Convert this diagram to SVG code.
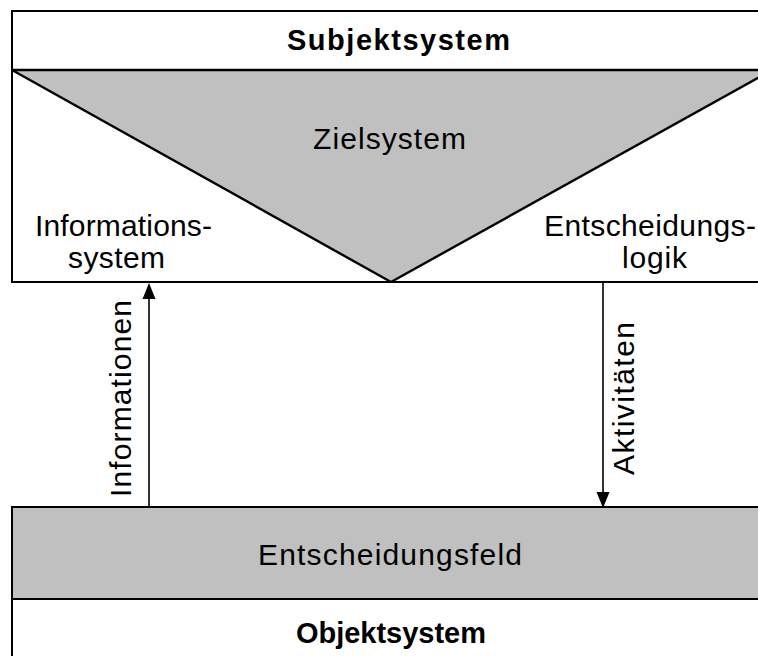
<svg xmlns="http://www.w3.org/2000/svg" width="758" height="656" viewBox="0 0 758 656">
  <style>
    .frame { fill: #ffffff; stroke: #000000; stroke-width: 2; }
    .shade { fill: #c0c0c0; stroke: #000000; stroke-width: 2.4; stroke-linejoin: bevel; }
    .rule { stroke: #000000; stroke-width: 2; fill: none; }
    .link { stroke: #000000; stroke-width: 1.6; fill: none; }
    .head { fill: #000000; }
    text { font-family: "Liberation Sans", Arial, sans-serif; font-size: 30px; fill: #000000; }
    .bold { font-weight: bold; font-size: 29px; }
  </style>

  <rect width="758" height="656" fill="#ffffff"/>

  <!-- upper block: subject system with goal triangle -->
  <g id="subjektsystem">
    <rect class="frame" x="12" y="11" width="760" height="271"/>
    <line class="rule" x1="12" y1="70" x2="772" y2="70"/>
    <text class="bold" x="287" y="50" textLength="223" lengthAdjust="spacing">Subjektsystem</text>
  </g>

  <g id="zielsystem">
    <polygon class="shade" points="12,70 772,70 391,282"/>
    <text x="313" y="149" textLength="153" lengthAdjust="spacing">Zielsystem</text>
  </g>

  <g id="informationssystem">
    <text x="35" y="236" textLength="177" lengthAdjust="spacing">Informations-</text>
    <text x="68" y="268" textLength="97" lengthAdjust="spacing">system</text>
  </g>

  <g id="entscheidungslogik">
    <text x="544" y="236" textLength="212" lengthAdjust="spacing">Entscheidungs-</text>
    <text x="622" y="268" textLength="65" lengthAdjust="spacing">logik</text>
  </g>

  <!-- lower block: object system with decision field -->
  <g id="objektsystem">
    <rect class="frame" x="12" y="507" width="760" height="170"/>
    <text class="bold" x="296" y="643" textLength="190" lengthAdjust="spacing">Objektsystem</text>
  </g>

  <g id="entscheidungsfeld">
    <rect class="shade" x="12" y="507" width="760" height="92" style="stroke-width:2"/>
    <text x="258" y="565" textLength="264" lengthAdjust="spacing">Entscheidungsfeld</text>
  </g>

  <!-- flows between the two blocks -->
  <g id="connectors">
    <line class="link" x1="149" y1="507" x2="149" y2="297"/>
    <polygon class="head" points="149,283 142.5,299 155.5,299"/>
    <text transform="rotate(-90 131 497)" x="131" y="497" textLength="197" lengthAdjust="spacing">Informationen</text>

    <line class="link" x1="603" y1="283" x2="603" y2="494"/>
    <polygon class="head" points="603,508 596.5,492 609.5,492"/>
    <text transform="rotate(-90 634 475)" x="634" y="475" textLength="153" lengthAdjust="spacing">Aktivitäten</text>
  </g>
</svg>
